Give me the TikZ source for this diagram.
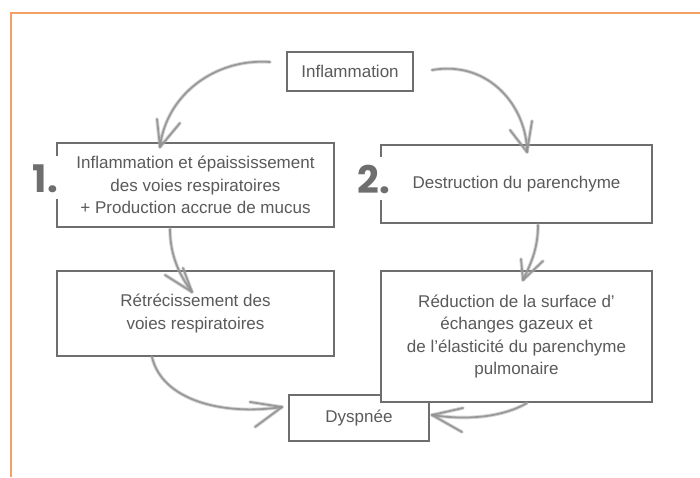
\documentclass[tikz,border=0pt]{standalone}
\usepackage{fontspec}
\setmainfont{Liberation Sans}
\newfontfamily\numfont{Poppins}
\definecolor{frameorange}{HTML}{F2A066}
\definecolor{boxline}{HTML}{6E6E6E}
\definecolor{txtgray}{HTML}{5A5A5A}
\definecolor{brush}{HTML}{939393}
\begin{document}
\begin{tikzpicture}[x=1pt,y=-1pt,
  stagebox/.style={draw=boxline,line width=1.1pt,fill=white,text=txtgray,
    align=center,inner sep=0pt,font=\fontsize{17}{22.5}\selectfont},
  bignum/.style={fill=white,text=boxline,inner xsep=2pt,inner ysep=7pt,
    text height=29pt,text depth=0pt,font=\numfont\bfseries\fontsize{38}{38}\selectfont},
  brushline/.style={line cap=round,line join=round}]
\useasboundingbox (0,0) rectangle (700,477);
% frame
\draw[frameorange,line width=1.5pt] (700,13) -- (11,13) -- (11,477);

% stages
\node[stagebox,minimum width=126pt,minimum height=39pt] (infl) at (350,71.5) {Inflammation};
\node[stagebox,minimum width=277pt,minimum height=84pt] (b1) at (195.5,185)
  {Inflammation et épaississement\\des voies respiratoires\\+ Production accrue de mucus};
\node[stagebox,minimum width=271pt,minimum height=78pt] (b2) at (516.5,184) {Destruction du parenchyme};
\node[stagebox,minimum width=277pt,minimum height=85pt] (b3) at (195.5,313.5)
  {Rétrécissement des\\voies respiratoires};
\node[stagebox,minimum width=140pt,minimum height=46pt] (dys) at (359,418) {Dyspnée};
\node[stagebox,minimum width=271pt,minimum height=131pt] (b4) at (516.5,336.5)
  {Réduction de la surface d’\\échanges gazeux et\\de l’élasticité du parenchyme\\pulmonaire};

% step numbers
\node[bignum,anchor=base east] (n1) at (60,192) {1.};
\node[bignum,anchor=base east] (n2) at (392,193) {2.};

% connector ends
\coordinate (s1) at (270,62);   \coordinate (t1) at (160,147);
\coordinate (s2) at (432,70);   \coordinate (t2) at (527,152);
\coordinate (s3) at (170,229);  \coordinate (t3) at (192,292);
\coordinate (s4) at (538,225);  \coordinate (t4) at (523,280);
\coordinate (s5) at (152,357);  \coordinate (t5) at (282,407);
\coordinate (s6) at (527,403);  \coordinate (t6) at (432,415);

% hand-drawn arrows: soft wide stroke under a darker core
\foreach \w/\c/\o in {3.6/brush!75/0.5, 1.8/brush/0.9}{
  \begin{scope}[draw=\c,line width=\w pt,opacity=\o,brushline]
    \draw (s1) .. controls (215,58) and (166,95) .. (t1);
    \draw (157,119) -- (t1) -- (180,123);
    \draw (s2) .. controls (490,60) and (527,108) .. (t2);
    \draw (510,130) -- (t2) -- (532,121);
    \draw (s3) .. controls (170,256) and (180,276) .. (t3);
    \draw (165,275) -- (t3) -- (183,268);
    \draw (s4) .. controls (538,250) and (530,265) .. (t4);
    \draw (521,259) -- (t4) -- (543,261);
    \draw (s5) .. controls (162,400) and (222,416) .. (t5);
    \draw (250,402) -- (t5) -- (255,427);
    \draw (s6) .. controls (505,416) and (470,421) .. (t6);
    \draw (463,408) -- (t6) -- (462,432);
  \end{scope}
}
\end{tikzpicture}
\end{document}
